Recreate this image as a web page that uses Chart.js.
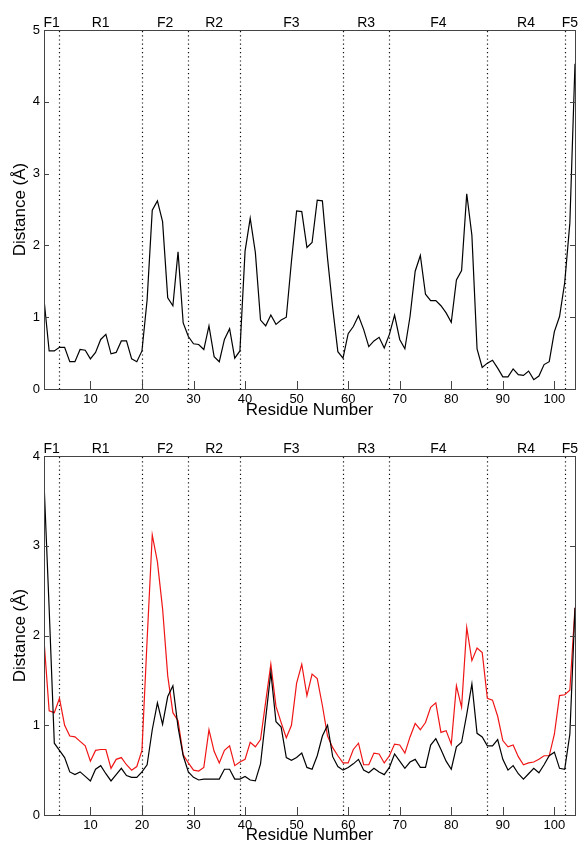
<!DOCTYPE html>
<html>
<head>
<meta charset="utf-8">
<script src="https://cdn.jsdelivr.net/npm/chart.js@4/dist/chart.umd.min.js"></script>
<style>
  html, body { margin: 0; padding: 0; background: #fff; }
  #wrap { position: relative; width: 582px; height: 845px; }
  canvas { position: absolute; left: 0; }
  #c1 { top: 0; }
  #c2 { top: 420px; }
</style>
</head>
<body>
<div id="wrap">
  <canvas id="c1" width="582" height="420"></canvas>
  <canvas id="c2" width="582" height="425"></canvas>
</div>
<script>
// ---------- DATA ----------
const residues = [1,2,3,4,5,6,7,8,9,10,11,12,13,14,15,16,17,18,19,20,
  21,22,23,24,25,26,27,28,29,30,31,32,33,34,35,36,37,38,39,40,
  41,42,43,44,45,46,47,48,49,50,51,52,53,54,55,56,57,58,59,60,
  61,62,63,64,65,66,67,68,69,70,71,72,73,74,75,76,77,78,79,80,
  81,82,83,84,85,86,87,88,89,90,91,92,93,94,95,96,97,98,99,100,
  101,102,103,104];

const topDistance = [1.25,0.53,0.53,0.58,0.58,0.38,0.38,0.55,0.54,0.42,
  0.51,0.69,0.76,0.49,0.51,0.67,0.67,0.42,0.38,0.53,
  1.24,2.49,2.62,2.33,1.27,1.16,1.91,0.92,0.73,0.63,
  0.62,0.55,0.88,0.45,0.38,0.69,0.84,0.43,0.53,1.92,
  2.38,1.90,0.96,0.88,1.03,0.90,0.96,1.00,1.78,2.48,
  2.47,1.97,2.04,2.63,2.62,1.82,1.13,0.52,0.43,0.77,
  0.87,1.02,0.83,0.59,0.67,0.72,0.57,0.76,1.03,0.69,
  0.56,1.01,1.64,1.86,1.32,1.23,1.23,1.16,1.06,0.93,
  1.52,1.65,2.72,2.14,0.56,0.30,0.36,0.40,0.29,0.17,
  0.17,0.28,0.20,0.19,0.25,0.13,0.18,0.34,0.38,0.80,
  1.01,1.48,2.31,4.53];

const bottomBlack = [3.71,2.30,0.80,0.72,0.64,0.48,0.45,0.48,0.43,0.38,
  0.51,0.55,0.46,0.38,0.45,0.52,0.44,0.42,0.42,0.48,
  0.56,0.95,1.25,1.01,1.32,1.44,0.98,0.66,0.48,0.42,
  0.39,0.40,0.40,0.40,0.40,0.51,0.51,0.40,0.40,0.43,
  0.39,0.38,0.57,1.08,1.59,1.04,0.98,0.64,0.61,0.64,
  0.69,0.53,0.51,0.66,0.88,1.00,0.65,0.54,0.50,0.53,
  0.57,0.62,0.50,0.47,0.52,0.48,0.45,0.53,0.68,0.60,
  0.52,0.59,0.62,0.53,0.53,0.78,0.85,0.73,0.60,0.51,
  0.76,0.81,1.12,1.46,0.91,0.87,0.77,0.77,0.84,0.62,
  0.50,0.55,0.46,0.40,0.46,0.52,0.47,0.56,0.66,0.70,
  0.52,0.51,0.90,2.31];

const bottomRed = [1.95,1.16,1.14,1.30,1.00,0.88,0.87,0.82,0.77,0.60,
  0.72,0.73,0.73,0.52,0.62,0.64,0.56,0.50,0.54,0.72,
  1.95,3.12,2.82,2.30,1.55,1.14,1.05,0.67,0.58,0.50,
  0.49,0.53,0.95,0.71,0.58,0.72,0.77,0.55,0.59,0.62,
  0.81,0.76,0.84,1.26,1.68,1.21,1.03,0.86,1.00,1.47,
  1.68,1.33,1.57,1.52,1.22,0.88,0.75,0.66,0.58,0.58,
  0.73,0.80,0.56,0.56,0.69,0.68,0.58,0.66,0.79,0.78,
  0.69,0.87,1.02,0.95,1.03,1.20,1.25,0.92,0.94,0.79,
  1.44,1.20,2.09,1.72,1.86,1.81,1.30,1.28,1.10,0.83,
  0.76,0.78,0.65,0.56,0.58,0.59,0.62,0.66,0.66,0.90,
  1.33,1.34,1.39,2.31];

const xTickValues = [10,20,30,40,50,60,70,80,90,100];
const yMaxTop = 5;
const yMaxBottom = 4;
const regionBounds = [1,4,20,29,39,59,68,87,102,104];
const regionNames = ['F1','R1','F2','R2','F3','R3','F4','R4','F5'];
const dividerResidues = [4,20,29,39,59,68,87,102];
const xTitle = 'Residue Number';
const yTitle = 'Distance (\u00C5)';

// ---------- STYLE ----------
const FONT = "'Liberation Sans', Arial, Helvetica, sans-serif";

const framePlugin = {
  id: 'frame',
  beforeDatasetsDraw(chart) {
    const {ctx, chartArea: a, scales: {x}} = chart;
    ctx.save();
    ctx.strokeStyle = '#111';
    ctx.lineWidth = 1.2;
    ctx.setLineDash([1.2, 3]);
    dividerResidues.forEach(r => {
      const px = Math.round(x.getPixelForValue(r)) + 0.5;
      ctx.beginPath();
      ctx.moveTo(px, a.top + 1);
      ctx.lineTo(px, a.bottom);
      ctx.stroke();
    });
    ctx.restore();
  },
  afterDraw(chart) {
    const {ctx, chartArea: a, scales: {x, y}} = chart;
    ctx.save();
    ctx.strokeStyle = '#444';
    ctx.lineWidth = 1;
    ctx.setLineDash([]);
    ctx.strokeRect(Math.round(a.left) + 0.5, Math.round(a.top) + 0.5,
                   Math.round(a.right - a.left), Math.round(a.bottom - a.top));
    // y ticks inward, left and right
    y.ticks.forEach(t => {
      const py = Math.round(y.getPixelForValue(t.value)) + 0.5;
      ctx.beginPath();
      ctx.moveTo(a.left, py); ctx.lineTo(a.left + 5, py);
      ctx.moveTo(a.right, py); ctx.lineTo(a.right - 5, py);
      ctx.stroke();
    });
    // x ticks inward at bottom
    x.ticks.forEach(t => {
      const px = Math.round(x.getPixelForValue(t.value)) + 0.5;
      ctx.beginPath();
      ctx.moveTo(px, a.bottom); ctx.lineTo(px, a.bottom - 8);
      ctx.stroke();
    });
    // region labels
    ctx.fillStyle = '#000';
    ctx.font = '14px ' + FONT;
    ctx.textAlign = 'center';
    ctx.textBaseline = 'alphabetic';
    regionNames.forEach((name, i) => {
      const cx = (x.getPixelForValue(regionBounds[i]) + x.getPixelForValue(regionBounds[i + 1])) / 2;
      ctx.fillText(name, cx, a.top - 3.5);
    });
    ctx.restore();
  }
};

function makeChart(canvasId, datasets, yMax, topPad, xHeight) {
  return new Chart(document.getElementById(canvasId), {
    type: 'line',
    data: { datasets },
    options: {
      responsive: false,
      animation: false,
      devicePixelRatio: 1,
      layout: { padding: { top: topPad, right: 7, left: 0, bottom: 0 } },
      plugins: { legend: { display: false }, tooltip: { enabled: false } },
      elements: { point: { radius: 0 }, line: { tension: 0, borderWidth: 1.2 } },
      scales: {
        x: {
          type: 'linear', min: 1, max: 104,
          afterBuildTicks: s => { s.ticks = xTickValues.map(v => ({ value: v })); },
          afterFit: s => { s.height = xHeight; },
          grid: { display: false, drawTicks: false },
          border: { display: false },
          ticks: { padding: 3, maxRotation: 0, autoSkip: false, color: '#000',
                   font: { family: FONT, size: 13 } },
          title: { display: true, text: xTitle, color: '#000', padding: { top: 0, bottom: -1 },
                   font: { family: FONT, size: 17 } }
        },
        y: {
          min: 0, max: yMax,
          afterFit: s => { s.width = 44; },
          grid: { display: false, drawTicks: false },
          border: { display: false },
          ticks: { stepSize: 1, padding: 4, color: '#000',
                   font: { family: FONT, size: 13 } },
          title: { display: true, text: yTitle, color: '#000', padding: { top: 10, bottom: 0 },
                   font: { family: FONT, size: 17 } }
        }
      }
    },
    plugins: [framePlugin]
  });
}

const toPoints = arr => residues.map((r, i) => ({ x: r, y: arr[i] }));

makeChart('c1', [
  { data: toPoints(topDistance), borderColor: '#000' }
], yMaxTop, 30, 31);

makeChart('c2', [
  { data: toPoints(bottomBlack), borderColor: '#000' },
  { data: toPoints(bottomRed), borderColor: '#f01515' }
], yMaxBottom, 36, 30);
</script>
</body>
</html>
